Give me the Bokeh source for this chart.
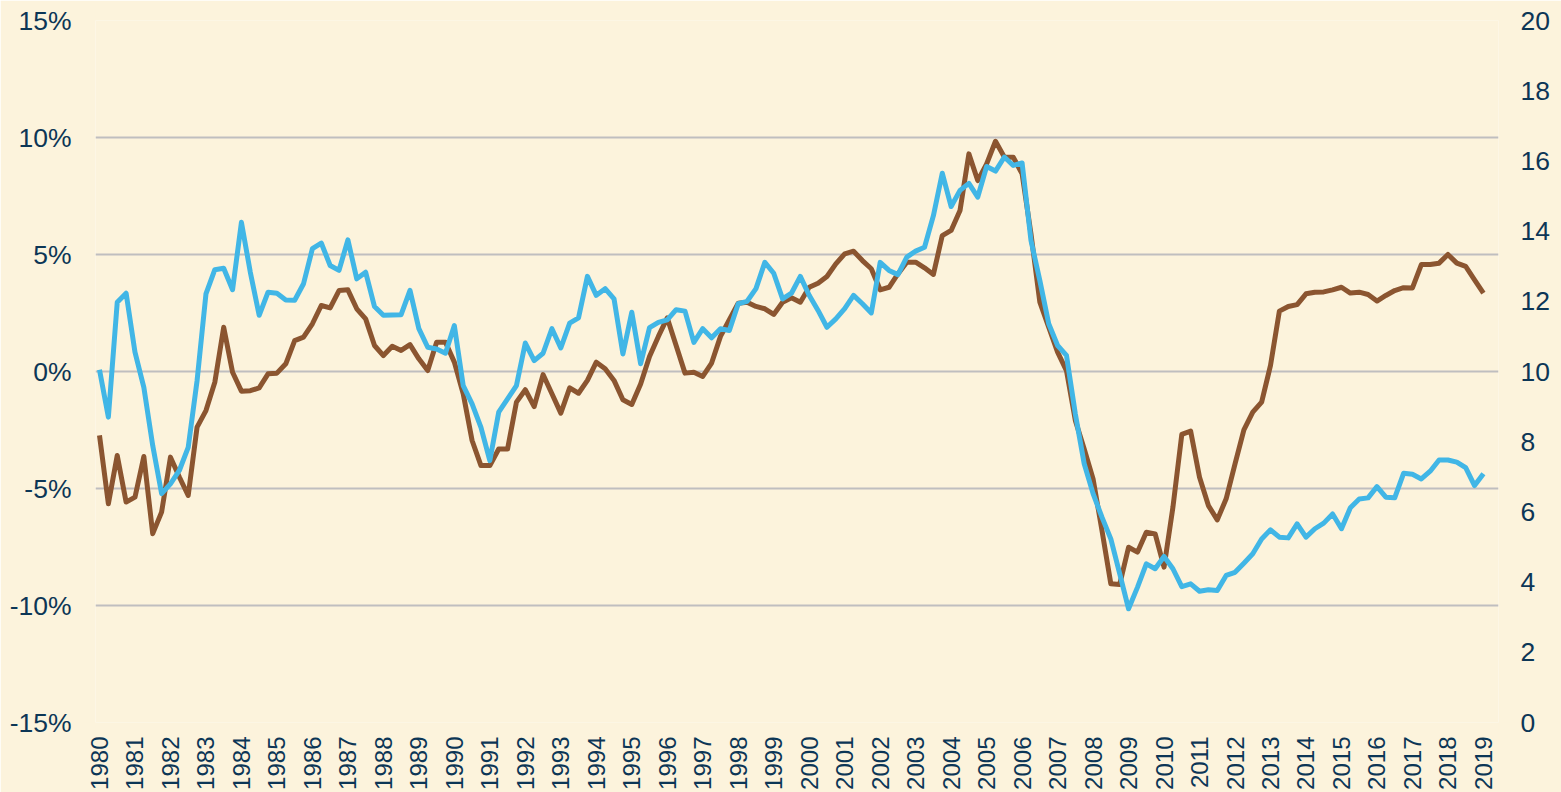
import math
from bokeh.plotting import figure
from bokeh.models import Range1d, LinearAxis, FixedTicker, ColumnDataSource
from bokeh.embed import file_html
from bokeh.resources import INLINE

# ---------------- data (quarterly, 1980Q1 .. 2019Q1) ----------------
years = [str(y) for y in range(1980, 2020)]

# brown series, left axis (%)
brown_pct = [
    -2.73, -5.65, -3.59, -5.58, -5.37, -3.63, -6.93, -6.01, -3.66, -4.51,
    -5.30, -2.38, -1.67, -0.46, 1.89, -0.03, -0.84, -0.82, -0.70, -0.10,
    -0.07, 0.33, 1.32, 1.47, 2.04, 2.82, 2.72, 3.46, 3.49, 2.68,
    2.25, 1.11, 0.68, 1.08, 0.90, 1.15, 0.54, 0.04, 1.25, 1.25,
    0.40, -0.95, -2.95, -4.02, -4.02, -3.31, -3.31, -1.31, -0.78, -1.50,
    -0.13, -0.95, -1.78, -0.70, -0.93, -0.38, 0.40, 0.12, -0.38, -1.21,
    -1.41, -0.53, 0.64, 1.50, 2.29, 1.11, -0.07, -0.03, -0.21, 0.36,
    1.50, 2.21, 2.92, 2.96, 2.78, 2.68, 2.44, 2.96, 3.15, 2.96,
    3.60, 3.77, 4.06, 4.60, 5.03, 5.14, 4.74, 4.39, 3.49, 3.60,
    4.17, 4.67, 4.67, 4.43, 4.15, 5.81, 6.03, 6.88, 9.30, 8.16,
    8.87, 9.84, 9.16, 9.16, 8.45, 5.88, 2.96, 1.89, 0.83, 0.04,
    -2.09, -3.31, -4.59, -6.79, -9.07, -9.10, -7.51, -7.72, -6.87, -6.94,
    -8.36, -5.80, -2.69, -2.55, -4.52, -5.73, -6.34, -5.44, -3.95, -2.49,
    -1.74, -1.31, 0.26, 2.58, 2.78, 2.86, 3.32, 3.39, 3.40, 3.49,
    3.60, 3.35, 3.39, 3.29, 3.01, 3.25, 3.46, 3.58, 3.57, 4.57,
    4.57, 4.63, 5.00, 4.63, 4.49, 3.92, 3.35,
]

# blue series, right axis
blue_val = [
    10.05, 8.70, 11.97, 12.23, 10.55, 9.55, 7.89, 6.52, 6.80, 7.18,
    7.84, 9.74, 12.21, 12.90, 12.94, 12.33, 14.25, 12.83, 11.60, 12.26,
    12.23, 12.04, 12.03, 12.50, 13.50, 13.66, 13.02, 12.88, 13.75, 12.64,
    12.83, 11.85, 11.60, 11.61, 11.62, 12.31, 11.22, 10.69, 10.64, 10.52,
    11.31, 9.60, 9.08, 8.41, 7.46, 8.84, 9.22, 9.60, 10.81, 10.31,
    10.52, 11.22, 10.67, 11.38, 11.53, 12.71, 12.17, 12.36, 12.07, 10.50,
    11.69, 10.22, 11.25, 11.40, 11.47, 11.76, 11.72, 10.83, 11.22, 10.96,
    11.22, 11.17, 11.93, 12.00, 12.36, 13.11, 12.80, 12.07, 12.23, 12.71,
    12.17, 11.74, 11.26, 11.50, 11.79, 12.17, 11.93, 11.67, 13.11, 12.88,
    12.76, 13.26, 13.43, 13.54, 14.44, 15.65, 14.70, 15.16, 15.36, 14.97,
    15.84, 15.71, 16.11, 15.87, 15.94, 13.73, 12.59, 11.36, 10.74, 10.46,
    8.79, 7.37, 6.52, 5.85, 5.23, 4.24, 3.24, 3.85, 4.52, 4.38,
    4.73, 4.38, 3.87, 3.95, 3.74, 3.78, 3.76, 4.19, 4.28, 4.54,
    4.81, 5.23, 5.49, 5.28, 5.26, 5.66, 5.28, 5.52, 5.68, 5.94,
    5.52, 6.12, 6.37, 6.40, 6.72, 6.42, 6.40, 7.10, 7.07, 6.94,
    7.16, 7.48, 7.48, 7.42, 7.26, 6.75, 7.09,
]

left_ticks = [-15, -10, -5, 0, 5, 10, 15]
right_ticks = [0, 2, 4, 6, 8, 10, 12, 14, 16, 18, 20]

quarter = list(range(len(brown_pct)))
year_ticks = [i * 4 for i in range(len(years))]

# ---------------- styling ----------------
BG = "#FCF3DC"
TXT = "#0c3656"
BROWN = "#8B5530"
BLUE = "#41B6E6"
GRID = "#BFBEBF"
FONT = "Liberation Sans"

src = ColumnDataSource(dict(q=quarter, brown=brown_pct, blue=blue_val))

p = figure(width=1561, height=792, output_backend="svg", toolbar_location=None,
           x_range=Range1d(-0.45, 157.7), y_range=Range1d(-15, 15),
           min_border_left=95, min_border_right=63, min_border_top=20,
           min_border_bottom=70,
           background_fill_color=BG, border_fill_color=BG,
           outline_line_color=None)
p.extra_y_ranges = {"right": Range1d(0, 20)}

# left axis
ly = p.yaxis[0]
ly.ticker = FixedTicker(ticks=left_ticks)
ly.major_label_overrides = {t: f"{t}%" for t in left_ticks}

# bottom axis
bx = p.xaxis[0]
bx.ticker = FixedTicker(ticks=year_ticks)
bx.major_label_overrides = {t: y for t, y in zip(year_ticks, years)}
bx.major_label_orientation = math.pi / 2

# right axis
ry = LinearAxis(y_range_name="right", ticker=FixedTicker(ticks=right_ticks))
p.add_layout(ry, "right")

for ax, size, standoff in ((ly, "26.5px", 24), (bx, "24px", 14), (ry, "26.5px", 22)):
    ax.axis_line_color = None
    ax.major_tick_line_color = None
    ax.minor_tick_line_color = None
    ax.major_tick_in = 0
    ax.major_tick_out = 0
    ax.minor_tick_in = 0
    ax.minor_tick_out = 0
    ax.major_label_text_font = FONT
    ax.major_label_text_font_size = size
    ax.major_label_text_color = TXT
    ax.major_label_standoff = standoff

p.xgrid.grid_line_color = None
p.ygrid.ticker = FixedTicker(ticks=left_ticks)
p.ygrid.grid_line_color = GRID
p.ygrid.grid_line_width = 2

p.line("q", "brown", source=src, line_color=BROWN, line_width=5,
       line_join="round")
p.line("q", "blue", source=src, y_range_name="right", line_color=BLUE,
       line_width=5, line_join="round")

open("out.html", "w").write(file_html(p, INLINE))
